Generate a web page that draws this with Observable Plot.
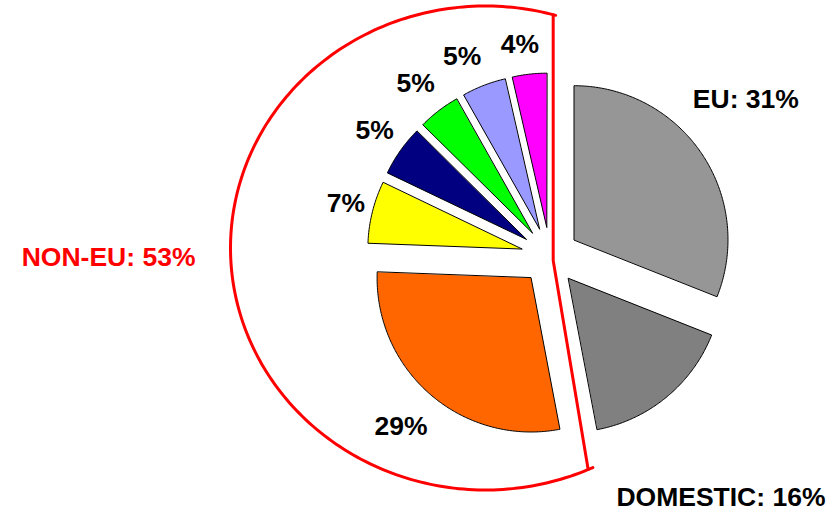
<!DOCTYPE html>
<html>
<head>
<meta charset="utf-8">
<script src="https://cdn.jsdelivr.net/npm/d3@7"></script>
<script src="https://cdn.jsdelivr.net/npm/@observablehq/plot@0.6"></script>
<style>
  html, body { margin: 0; padding: 0; background: #fff; }
  #chart svg { display: block; }
</style>
</head>
<body>
<div id="chart"></div>
<script>
// ---- data ----
const sliceKeys   = ["EU", "DOMESTIC", "NON-EU 1", "NON-EU 2", "NON-EU 3", "NON-EU 4", "NON-EU 5", "NON-EU 6"];
const sliceValues = [31, 16, 28.6, 6.5, 5.3, 4.4, 4.6, 3.6];
const sliceLabels = ["EU: 31%", "DOMESTIC: 16%", "29%", "7%", "5%", "5%", "5%", "4%"];
const groupLabel  = "NON-EU: 53%";
const groupFirst  = 2; // index of first NON-EU slice

// ---- styles / layout ----
const sliceColors = ["#969696", "#808080", "#FF6600", "#FFFF00", "#000080", "#00FF00", "#9999FF", "#FF00FF"];
const W = 839, H = 512;
const PX = 154;                 // pixels per unit of pie radius
const CX = 549.5, CY = 255.5;   // pie centre (pixels)
const EXPLODE = 29 / PX;        // explosion distance of every slice
const LABEL_R = 1.22;           // label distance from slice apex
// label offsets in pixels (dx, dy)
const labelNudge = [[16.5, -35.7], [32.7, 73.6], [-7.7, 5.4], [6.5, -1.4], [2.1, -1.4], [-2.5, -1.2], [-9.3, 2.1], [-5.6, 2.6]];
// NON-EU group outline (annotation shape)
const G = {x: 3.2 / PX, y: -4.5 / PX};
const E = {x: (485 - CX) / PX, y: (CY - 247.5) / PX, rx: 255 / PX, ry: 242 / PX};
const OUTLINE_TILT = 1.3 * Math.PI / 180;

const FONT = "'Liberation Sans', Arial, Helvetica, sans-serif";

// ---- geometry ----
const TAU = 2 * Math.PI;
const total = d3.sum(sliceValues);
let acc = 0;
const slices = sliceValues.map((v, i) => {
  const a0 = acc / total * TAU; acc += v;
  const a1 = acc / total * TAU;
  const mid = (a0 + a1) / 2;
  return {i, key: sliceKeys[i], a0, a1, mid,
          ax: EXPLODE * Math.sin(mid), ay: EXPLODE * Math.cos(mid)};
});

const polyPts = slices.flatMap(s => {
  const n = Math.max(10, Math.ceil((s.a1 - s.a0) / 0.01));
  const pts = [{key: s.key, color: sliceColors[s.i], x: s.ax, y: s.ay}];
  for (let k = 0; k <= n; k++) {
    const a = s.a0 + (s.a1 - s.a0) * k / n;
    pts.push({key: s.key, color: sliceColors[s.i], x: s.ax + Math.sin(a), y: s.ay + Math.cos(a)});
  }
  return pts;
});

const labelPts = slices.map(s => ({
  text: sliceLabels[s.i],
  x: s.ax + LABEL_R * Math.sin(s.mid) + labelNudge[s.i][0] / PX,
  y: s.ay + LABEL_R * Math.cos(s.mid) - (labelNudge[s.i][1] + 1) / PX
}));

// ray from G at clockwise-from-north angle -> ellipse intersection
function rayEllipse(angle) {
  const dx = Math.sin(angle), dy = Math.cos(angle);
  const ox = G.x - E.x, oy = G.y - E.y;
  const A = (dx / E.rx) ** 2 + (dy / E.ry) ** 2;
  const B = 2 * (ox * dx / E.rx ** 2 + oy * dy / E.ry ** 2);
  const C = (ox / E.rx) ** 2 + (oy / E.ry) ** 2 - 1;
  const t = (-B + Math.sqrt(B * B - 4 * A * C)) / (2 * A);
  return {x: G.x + t * dx, y: G.y + t * dy};
}
const groupStart = slices[groupFirst].a0 + OUTLINE_TILT;
const groupEnd = slices[slices.length - 1].a1;
const pTop = rayEllipse(groupEnd);
const pBot = rayEllipse(groupStart);
const phi = p => Math.atan2((p.y - E.y) / E.ry, (p.x - E.x) / E.rx);
let phiTop = phi(pTop) - 0.01;
let phiBot = phi(pBot) + 0.02;
while (phiBot < phiTop) phiBot += TAU;
const arcPts = d3.range(0, 201).map(k => {
  const f = phiTop + (phiBot - phiTop) * k / 200;
  return {x: E.x + E.rx * Math.cos(f), y: E.y + E.ry * Math.sin(f)};
});
const sidePts = [pTop, G, pBot];
const groupLabelPt = [{text: groupLabel, x: E.x - E.rx - 35 / PX, y: E.y - 9.8 / PX}];

// ---- chart ----
const chart = Plot.plot({
  width: W,
  height: H,
  margin: 0,
  style: {background: "#fff", fontFamily: FONT},
  x: {domain: [-CX / PX, (W - CX) / PX], axis: null},
  y: {domain: [-(H - CY) / PX, CY / PX], axis: null},
  color: {type: "identity"},
  marks: [
    Plot.line(polyPts, {x: "x", y: "y", z: "key", fill: "color", stroke: "#000", strokeWidth: 1, curve: "linear-closed", strokeLinejoin: "miter"}),
    Plot.line(sidePts, {x: "x", y: "y", stroke: "#FF0000", strokeWidth: 3, strokeLinejoin: "miter"}),
    Plot.line(arcPts, {x: "x", y: "y", stroke: "#FF0000", strokeWidth: 3}),
    Plot.text(labelPts, {x: "x", y: "y", text: "text", fill: "#000", fontSize: 26.5, fontWeight: "bold", fontFamily: FONT, textAnchor: "middle"}),
    Plot.text(groupLabelPt, {x: "x", y: "y", text: "text", fill: "#FF0000", fontSize: 26.5, fontWeight: "bold", fontFamily: FONT, textAnchor: "end"})
  ]
});
document.getElementById("chart").append(chart);
</script>
</body>
</html>
